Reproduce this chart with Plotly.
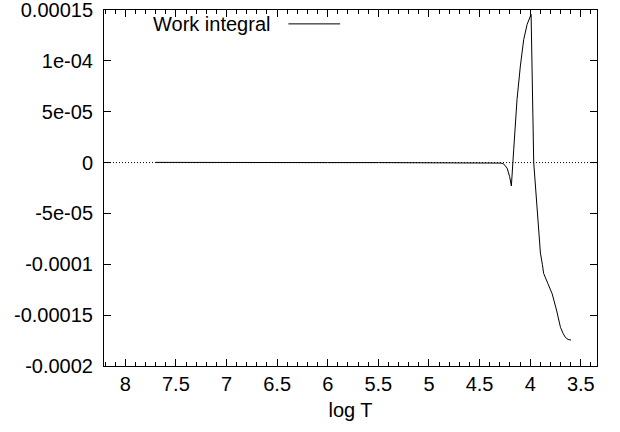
import plotly.graph_objects as go

# Data
log_t = [7.70, 7.50, 7.00, 6.50, 6.00, 5.50, 5.00, 4.50, 4.35, 4.29, 4.262, 4.228, 4.203, 4.186,
         4.163, 4.130, 4.097, 4.064, 4.030, 3.991, 3.965, 3.932, 3.899, 3.880, 3.867,
         3.825, 3.783, 3.740, 3.701, 3.675, 3.652, 3.625, 3.596]
work = [2e-7, 1e-7, 0.0, 0.0, 0.0, 0.0, 0.0, 0.0, -2e-7, -5e-7, -1.3e-6, -5.5e-6, -1.38e-5, -2.3e-5,
        1.25e-5, 6.2e-5, 9.5e-5, 1.21e-4, 1.36e-4, 1.457e-4, 0.0, -5.0e-5, -8.9e-5, -1.0e-4, -1.09e-4,
        -1.19e-4, -1.29e-4, -1.45e-4, -1.62e-4, -1.68e-4, -1.72e-4, -1.74e-4, -1.745e-4]

x_ticks = [8, 7.5, 7, 6.5, 6, 5.5, 5, 4.5, 4, 3.5]
x_labels = ["8", "7.5", "7", "6.5", "6", "5.5", "5", "4.5", "4", "3.5"]
y_ticks = [-0.0002, -0.00015, -0.0001, -0.00005, 0, 0.00005, 0.0001, 0.00015]
y_labels = ["-0.0002", "-0.00015", "-0.0001", "-5e-05", "0", "5e-05", "1e-04", "0.00015"]
series_name = "Work integral"

FONT = "Liberation Sans, Arial, sans-serif"

fig = go.Figure()
fig.add_trace(go.Scatter(x=log_t, y=work, mode="lines", name=series_name,
                         line=dict(color="black", width=1), showlegend=False))

# zero axis (dotted)
fig.add_shape(type="line", xref="paper", x0=0, x1=1, yref="y", y0=0, y1=0,
              line=dict(color="black", width=1, dash="1px,2px"), layer="below")

# gnuplot-style key: text then line sample
fig.add_annotation(text=series_name, xref="paper", yref="paper", x=0.341, y=0.961,
                   xanchor="right", yanchor="middle", showarrow=False,
                   font=dict(family=FONT, size=20, color="black"))
fig.add_shape(type="line", xref="paper", yref="paper", x0=0.374, x1=0.479, y0=0.961, y1=0.961,
              line=dict(color="black", width=1))

fig.update_xaxes(range=[8.21, 3.34], tickmode="array", tickvals=x_ticks, ticktext=x_labels,
                 ticks="inside", ticklen=7, tickcolor="black", showline=True, linecolor="black",
                 linewidth=1, mirror="ticks", showgrid=False, zeroline=False, automargin=False,
                 minor=dict(dtick=0.1, ticks="inside", ticklen=4, tickcolor="black", showgrid=False),
                 title=dict(text="log T", font=dict(family=FONT, size=20, color="black"), standoff=8),
                 tickfont=dict(family=FONT, size=20, color="black"))
fig.update_yaxes(range=[-0.00020005, 0.00015005], tickmode="array", tickvals=y_ticks, ticktext=y_labels,
                 ticks="inside", ticklen=7, tickcolor="black", showline=True, linecolor="black",
                 linewidth=1, mirror="ticks", showgrid=False, zeroline=False, automargin=False,
                 ticklabeloverflow="allow",
                 tickfont=dict(family=FONT, size=20, color="black"), ticklabelstandoff=6)

fig.update_layout(width=620, height=432, margin=dict(l=104, r=23, t=10, b=66),
                  plot_bgcolor="white", paper_bgcolor="white", showlegend=False)

fig.write_html("out.html", config={"displayModeBar": False},
               post_script="document.body.style.margin='0';document.body.style.padding='0';")
